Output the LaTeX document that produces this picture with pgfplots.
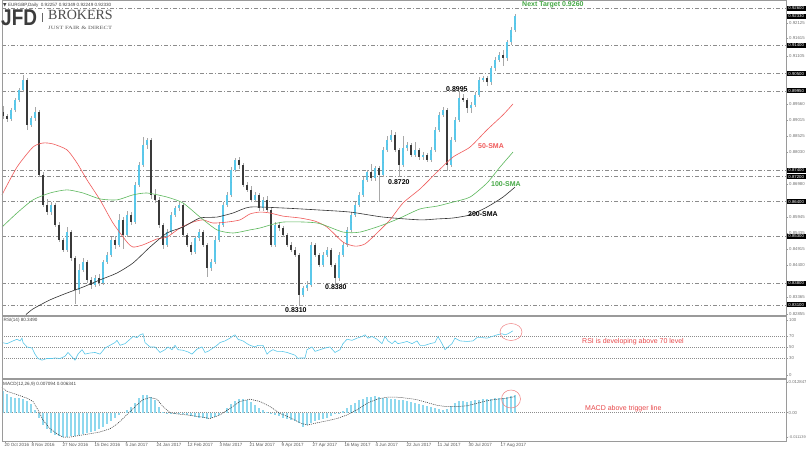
\documentclass[border=0pt]{standalone}
\usepackage{pgfplots}
\pgfplotsset{compat=1.18}
\usepackage{pgfplotstable}
\usepackage{graphicx}
\usepackage{fontspec}
\setmainfont{Liberation Sans}
\newfontfamily\serif{Liberation Serif}
\newfontfamily\dejavu{DejaVu Sans}
\definecolor{bull}{HTML}{5BC8EA}
\definecolor{bear}{HTML}{3A3A3A}
\definecolor{wick}{HTML}{A8A8A8}
\definecolor{smared}{HTML}{F05A5A}
\definecolor{smagreen}{HTML}{5CB85C}
\definecolor{smablack}{HTML}{333333}
\definecolor{lvl}{HTML}{8C8C8C}
\definecolor{rsic}{HTML}{5BC8EA}
\definecolor{histc}{HTML}{8FD8EE}
\definecolor{annred}{HTML}{E8484A}
\definecolor{anngreen}{HTML}{45A845}
\definecolor{framec}{HTML}{9A9A9A}
\definecolor{logoc}{HTML}{3C3C3C}
\newcommand{\lblfont}{\fontsize{4.3}{5}\selectfont}
\newcommand{\datefont}{\fontsize{4.5}{5}\selectfont}
\newcommand{\annfont}{\fontsize{7}{8}\selectfont\bfseries}
\tikzset{pbox/.style={fill=black, text=white, font=\lblfont, inner sep=0.6pt, minimum width=19pt, minimum height=5pt, anchor=west}}
\pgfplotsset{candle/.style={only marks, mark size=0pt, mark options={draw=none, fill=none}}}

\pgfplotstableread{
x o h l c
3 0.8927 0.8945 0.8905 0.8914
7 0.8914 0.8920 0.8895 0.8905
11 0.8905 0.8940 0.8899 0.8934
15 0.8934 0.8972 0.8928 0.8966
19 0.8966 0.9004 0.8960 0.8998
23 0.8998 0.9046 0.8992 0.9030
27 0.9030 0.9036 0.8870 0.8886
31 0.8886 0.8914 0.8878 0.8908
35 0.8908 0.8943 0.8900 0.8927
39 0.8927 0.8933 0.8718 0.8726
43 0.8726 0.8734 0.8622 0.8630
47 0.8630 0.8650 0.8598 0.8607
51 0.8607 0.8640 0.8598 0.8630
55 0.8630 0.8636 0.8558 0.8566
59 0.8566 0.8575 0.8510 0.8518
63 0.8518 0.8525 0.8478 0.8486
67 0.8486 0.8560 0.8480 0.8543
71 0.8543 0.8550 0.8452 0.8460
75 0.8460 0.8466 0.8312 0.8358
79 0.8358 0.8440 0.8345 0.8422
83 0.8422 0.8460 0.8415 0.8447
87 0.8447 0.8453 0.8380 0.8390
91 0.8390 0.8398 0.8362 0.8374
95 0.8374 0.8405 0.8366 0.8396
99 0.8396 0.8410 0.8370 0.8380
103 0.8380 0.8455 0.8374 0.8447
107 0.8447 0.8480 0.8440 0.8470
111 0.8470 0.8526 0.8462 0.8518
115 0.8518 0.8530 0.8490 0.8502
119 0.8502 0.8600 0.8495 0.8582
123 0.8582 0.8590 0.8490 0.8534
127 0.8534 0.8610 0.8526 0.8598
131 0.8598 0.8606 0.8566 0.8575
135 0.8575 0.8702 0.8568 0.8694
139 0.8694 0.8766 0.8686 0.8758
143 0.8758 0.8847 0.8750 0.8822
147 0.8822 0.8845 0.8810 0.8838
151 0.8838 0.8845 0.8650 0.8662
155 0.8662 0.8680 0.8636 0.8646
159 0.8646 0.8655 0.8556 0.8566
163 0.8566 0.8572 0.8490 0.8502
167 0.8502 0.8552 0.8494 0.8543
171 0.8543 0.8606 0.8536 0.8598
175 0.8598 0.8628 0.8590 0.8620
179 0.8620 0.8640 0.8612 0.8630
183 0.8630 0.8636 0.8526 0.8534
187 0.8534 0.8540 0.8494 0.8502
191 0.8502 0.8510 0.8470 0.8479
195 0.8479 0.8532 0.8472 0.8524
199 0.8524 0.8552 0.8516 0.8543
203 0.8543 0.8550 0.8494 0.8502
207 0.8502 0.8508 0.8400 0.8428
211 0.8428 0.8456 0.8418 0.8447
215 0.8447 0.8526 0.8440 0.8518
219 0.8518 0.8574 0.8510 0.8566
223 0.8566 0.8638 0.8558 0.8630
227 0.8630 0.8670 0.8622 0.8662
231 0.8662 0.8750 0.8655 0.8742
235 0.8742 0.8780 0.8735 0.8774
239 0.8774 0.8782 0.8745 0.8758
243 0.8758 0.8765 0.8686 0.8694
247 0.8694 0.8702 0.8670 0.8678
251 0.8678 0.8690 0.8638 0.8646
255 0.8646 0.8670 0.8638 0.8662
259 0.8662 0.8668 0.8612 0.8620
263 0.8620 0.8654 0.8612 0.8646
267 0.8646 0.8660 0.8606 0.8614
271 0.8614 0.8620 0.8494 0.8502
275 0.8502 0.8574 0.8494 0.8566
279 0.8566 0.8575 0.8548 0.8556
283 0.8556 0.8562 0.8526 0.8534
287 0.8534 0.8540 0.8494 0.8502
291 0.8502 0.8510 0.8478 0.8486
295 0.8486 0.8494 0.8462 0.8470
299 0.8470 0.8476 0.8310 0.8342
303 0.8342 0.8372 0.8334 0.8364
307 0.8364 0.8385 0.8356 0.8374
311 0.8374 0.8510 0.8366 0.8502
315 0.8502 0.8508 0.8462 0.8470
319 0.8470 0.8476 0.8430 0.8438
323 0.8438 0.8478 0.8430 0.8470
327 0.8470 0.8494 0.8462 0.8486
331 0.8486 0.8492 0.8430 0.8438
335 0.8438 0.8444 0.8380 0.8396
339 0.8396 0.8478 0.8388 0.8470
343 0.8470 0.8510 0.8462 0.8502
347 0.8502 0.8558 0.8494 0.8550
351 0.8550 0.8606 0.8542 0.8598
355 0.8598 0.8638 0.8590 0.8630
359 0.8630 0.8670 0.8622 0.8662
363 0.8662 0.8718 0.8654 0.8710
367 0.8710 0.8743 0.8702 0.8735
371 0.8735 0.8760 0.8708 0.8716
375 0.8716 0.8756 0.8708 0.8748
379 0.8748 0.8756 0.8640 0.8726
383 0.8726 0.8814 0.8718 0.8806
387 0.8806 0.8850 0.8798 0.8838
391 0.8838 0.8870 0.8830 0.8854
395 0.8854 0.8862 0.8798 0.8806
399 0.8806 0.8812 0.8720 0.8758
403 0.8758 0.8850 0.8750 0.8812
407 0.8812 0.8830 0.8804 0.8822
411 0.8822 0.8828 0.8782 0.8790
415 0.8790 0.8830 0.8782 0.8806
419 0.8806 0.8812 0.8775 0.8783
423 0.8783 0.8798 0.8775 0.8790
427 0.8790 0.8796 0.8766 0.8774
431 0.8774 0.8814 0.8766 0.8806
435 0.8806 0.8878 0.8798 0.8870
439 0.8870 0.8926 0.8862 0.8918
443 0.8918 0.8943 0.8910 0.8934
447 0.8934 0.8940 0.8740 0.8758
451 0.8758 0.8846 0.8750 0.8838
455 0.8838 0.8910 0.8830 0.8902
459 0.8902 0.8995 0.8894 0.8972
463 0.8972 0.8985 0.8958 0.8966
467 0.8966 0.8972 0.8925 0.8940
471 0.8940 0.8958 0.8925 0.8950
475 0.8950 0.8990 0.8942 0.8982
479 0.8982 0.9038 0.8974 0.9030
483 0.9030 0.9044 0.9022 0.9036
487 0.9036 0.9042 0.9010 0.9023
491 0.9023 0.9076 0.9015 0.9068
495 0.9068 0.9102 0.9060 0.9094
499 0.9094 0.9118 0.9086 0.9110
503 0.9110 0.9125 0.9075 0.9100
507 0.9100 0.9159 0.9092 0.9151
511 0.9151 0.9198 0.9143 0.9190
515 0.9190 0.9240 0.9182 0.9233
}\candles

\pgfplotstableread{
x v
2 59
7 57
13 62
17 65
20 62
22 67
23 59
27 51
32 49
35 38
38 30
42 27
47 30
52 30
55 31
60 30
65 34
68 41
72 33
75 27
78 38
82 46
85 38
90 40
95 41
100 38
105 49
110 54
115 59
117 63
120 54
125 57
130 65
133 70
137 68
140 73
143 75
145 59
150 51
155 51
160 41
165 46
168 51
172 46
175 54
178 46
183 45
188 42
192 38
197 47
202 51
205 41
208 43
213 49
217 54
220 59
225 62
230 67
233 71
235 73
238 65
243 62
247 57
250 54
255 51
258 54
263 54
267 38
270 43
273 46
277 43
282 43
287 41
292 38
295 36
298 30
300 31
305 31
307 46
312 51
315 43
320 46
325 49
330 51
335 41
340 46
343 57
347 65
352 63
357 67
362 70
365 73
368 67
372 70
377 65
382 57
385 70
388 62
392 57
395 62
398 57
403 59
407 61
412 57
417 62
420 54
425 54
430 57
435 59
438 70
442 57
445 46
448 51
452 57
455 67
460 62
467 61
473 62
477 68
482 68
487 67
492 70
497 73
502 75
505 73
508 75
513 80.35
}\rsi

\pgfplotstableread{
x v
3 0.0085
7 0.0072
11 0.0063
15 0.0059
19 0.0056
23 0.0053
27 0.0045
31 0.0033
35 0.0010
39 -0.0020
43 -0.0049
47 -0.0065
51 -0.0078
55 -0.0086
59 -0.0091
63 -0.0096
67 -0.0095
71 -0.0093
75 -0.0090
79 -0.0088
83 -0.0083
87 -0.0079
91 -0.0075
95 -0.0071
99 -0.0066
103 -0.0056
107 -0.0046
111 -0.0033
115 -0.0021
119 -0.0010
123 0.0000
127 0.0011
131 0.0021
135 0.0040
139 0.0057
143 0.0068
147 0.0070
151 0.0063
155 0.0051
159 0.0024
163 0.0002
167 -0.0005
171 -0.0007
175 -0.0007
179 -0.0006
183 -0.0007
187 -0.0009
191 -0.0014
195 -0.0017
199 -0.0019
203 -0.0021
207 -0.0023
211 -0.0020
215 -0.0016
219 -0.0010
223 0.0000
227 0.0017
231 0.0033
235 0.0047
239 0.0053
243 0.0053
247 0.0051
251 0.0042
255 0.0031
259 0.0019
263 0.0010
267 0.0004
271 -0.0004
275 -0.0010
279 -0.0015
283 -0.0019
287 -0.0024
291 -0.0028
295 -0.0034
299 -0.0042
303 -0.0056
307 -0.0049
311 -0.0040
315 -0.0034
319 -0.0028
323 -0.0023
327 -0.0019
331 -0.0012
335 -0.0006
339 -0.0001
343 0.0008
347 0.0017
351 0.0030
355 0.0040
359 0.0049
363 0.0055
367 0.0060
371 0.0063
375 0.0064
379 0.0062
383 0.0059
387 0.0057
391 0.0054
395 0.0052
399 0.0051
403 0.0049
407 0.0047
411 0.0042
415 0.0039
419 0.0036
423 0.0031
427 0.0027
431 0.0023
435 0.0019
439 0.0014
443 0.0011
447 0.0015
451 0.0028
455 0.0040
459 0.0044
463 0.0044
467 0.0043
471 0.0046
475 0.0048
479 0.0051
483 0.0052
487 0.0053
491 0.0055
495 0.0056
499 0.0057
503 0.0059
507 0.0061
511 0.0064
515 0.0071
}\macdh

\pgfplotstableread{
x v
2 0.0099
7 0.0084
17 0.0071
27 0.0057
33 0.0044
38 0.0011
43 -0.0029
50 -0.0063
57 -0.0083
63 -0.0096
70 -0.0096
80 -0.0089
90 -0.0083
100 -0.0076
110 -0.0063
117 -0.0045
123 -0.0023
130 0.0004
137 0.0031
143 0.0051
150 0.0060
157 0.0053
163 0.0024
170 0.0000
177 -0.0005
187 -0.0009
200 -0.0016
210 -0.0023
220 -0.0009
230 0.0017
240 0.0044
250 0.0053
260 0.0044
270 0.0024
280 -0.0003
290 -0.0019
300 -0.0040
307 -0.0049
317 -0.0040
327 -0.0032
337 -0.0023
347 -0.0009
357 0.0011
367 0.0037
377 0.0053
387 0.0061
397 0.0061
407 0.0057
417 0.0051
427 0.0040
437 0.0029
447 0.0024
457 0.0024
467 0.0027
477 0.0037
487 0.0047
497 0.0053
507 0.0057
515 0.0063
}\macds

\begin{document}
\begin{tikzpicture}
\useasboundingbox (0,0) rectangle (806pt,451pt);
\fill[white] (0,0) rectangle (806pt,451pt);

% ---------------- main price panel
\begin{axis}[
  at={(2pt,135pt)}, anchor=south west,
  scale only axis, width=784pt, height=314pt,
  xmin=2, xmax=786, ymin=0.82744, ymax=0.92792,
  clip=false,
  axis line style={draw=none},
  xtick=\empty,
  ytick pos=right, yticklabel pos=right,
  ytick={0.92120,0.91640,0.91064,0.89528,0.89016,0.88504,0.87992,0.86968,0.85912,0.85400,0.84888,0.84376,0.83352,0.82808},
  yticklabels={0.92125,0.91615,0.91105,0.89560,0.89015,0.88525,0.88030,0.86980,0.85945,0.85435,0.84915,0.84400,0.83365,0.82855},
  yticklabel style={font=\lblfont, text=black!55, inner sep=0pt, xshift=1pt},
  major tick length=2pt, tick style={black!40, line width=0.4pt}, tick align=outside,
]
\pgfplotsinvokeforeach{0.926,0.914,0.905,0.8995,0.874,0.872,0.864,0.853,0.838,0.831}{
  \addplot[lvl, line width=0.6pt, dash pattern=on 4pt off 2pt on 1pt off 2pt] coordinates {(2,#1) (786,#1)};
}
% wicks
\addplot[candle, error bars/.cd, y dir=both, y explicit, error mark=none,
  error bar style={wick, line width=0.6pt}]
  table[x=x, y expr={(\thisrow{h}+\thisrow{l})/2}, y error expr={(\thisrow{h}-\thisrow{l})/2}] {\candles};
% bull bodies
\addplot[candle, restrict expr to domain={\thisrow{c}-\thisrow{o}}{0:1},
  error bars/.cd, y dir=both, y explicit, error mark=none,
  error bar style={bull, line width=2.3pt}]
  table[x=x, y expr={(\thisrow{o}+\thisrow{c})/2}, y error expr={abs(\thisrow{c}-\thisrow{o})/2}] {\candles};
% bear bodies
\addplot[candle, restrict expr to domain={\thisrow{c}-\thisrow{o}}{-1:0},
  error bars/.cd, y dir=both, y explicit, error mark=none,
  error bar style={bear, line width=2.3pt}]
  table[x=x, y expr={(\thisrow{o}+\thisrow{c})/2}, y error expr={abs(\thisrow{c}-\thisrow{o})/2}] {\candles};
% 50 SMA
\addplot[smared, line width=0.6pt, smooth, tension=0.4] coordinates {
(2,0.8662) (17,0.8751) (33,0.8815) (43,0.8828) (53,0.8825) (67,0.8806) (77,0.8764) (87,0.8710)
(100,0.8646) (113,0.8572) (127,0.8511) (133,0.8495) (143,0.8502) (157,0.8521) (167,0.8527)
(180,0.8556) (193,0.8575) (203,0.8582) (213,0.8572) (227,0.8575) (240,0.8582) (250,0.8601)
(260,0.8607) (270,0.8604) (283,0.8594) (300,0.8588) (315,0.8578) (327,0.8559) (343,0.8511)
(355,0.8498) (365,0.8505) (377,0.8540) (390,0.8582) (403,0.8636) (420,0.8681) (437,0.8735)
(453,0.8783) (470,0.8815) (487,0.8870) (503,0.8918) (513,0.8953)};
% 100 SMA
\addplot[smagreen, line width=0.6pt, smooth, tension=0.4] coordinates {
(2,0.8559) (17,0.8604) (33,0.8646) (50,0.8668) (67,0.8678) (83,0.8668) (100,0.8649) (117,0.8646)
(133,0.8662) (147,0.8668) (167,0.8655) (183,0.8636) (200,0.8591) (217,0.8550) (233,0.8540)
(250,0.8550) (260,0.8556) (283,0.8575) (317,0.8572) (343,0.8543) (360,0.8543) (383,0.8566)
(400,0.8588) (420,0.8617) (437,0.8626) (453,0.8639) (470,0.8655) (487,0.8700) (500,0.8751) (513,0.8799)};
% 200 SMA
\addplot[smablack, line width=0.6pt, smooth, tension=0.4] coordinates {
(26,0.8279) (33,0.8297) (50,0.8326) (67,0.8348) (83,0.8367) (100,0.8390) (117,0.8412) (133,0.8444)
(150,0.8495) (167,0.8540) (183,0.8559) (200,0.8588) (217,0.8591) (233,0.8604) (250,0.8623)
(283,0.8620) (317,0.8614) (350,0.8607) (383,0.8591) (420,0.8582) (437,0.8585) (453,0.8588)
(470,0.8598) (487,0.8623) (503,0.8655) (515,0.8687)};
% boxed price labels
\node[pbox] at (axis cs:786.5,0.926) {0.92600};
\node[pbox] at (axis cs:786.5,0.9233) {0.92330};
\node[pbox] at (axis cs:786.5,0.914) {0.91400};
\node[pbox] at (axis cs:786.5,0.905) {0.90500};
\node[pbox] at (axis cs:786.5,0.8995) {0.89950};
\node[pbox] at (axis cs:786.5,0.874) {0.87400};
\node[pbox] at (axis cs:786.5,0.872) {0.87200};
\node[pbox] at (axis cs:786.5,0.864) {0.86400};
\node[pbox] at (axis cs:786.5,0.853) {0.85300};
\node[pbox] at (axis cs:786.5,0.838) {0.83800};
\node[pbox] at (axis cs:786.5,0.831) {0.83100};
\end{axis}

% ---------------- RSI panel
\begin{axis}[
  at={(2pt,72pt)}, anchor=south west,
  scale only axis, width=784pt, height=63pt,
  xmin=2, xmax=786, ymin=-7.27, ymax=107.27,
  clip=false,
  axis line style={draw=none},
  xtick=\empty,
  ytick pos=right, yticklabel pos=right,
  ytick={0,30,50,70,100}, yticklabels={0,30,50,70,100},
  yticklabel style={font=\lblfont, text=black!55, inner sep=0pt, xshift=1pt},
  major tick length=2pt, tick style={black!40, line width=0.4pt}, tick align=outside,
]
\pgfplotsinvokeforeach{30,50,70}{
  \addplot[black!45, line width=0.5pt, dash pattern=on 1pt off 1pt] coordinates {(2,#1) (786,#1)};
}
\addplot[rsic, line width=0.6pt] table[x=x,y=v] {\rsi};
\end{axis}

% ---------------- MACD panel
\begin{axis}[
  at={(2pt,10pt)}, anchor=south west,
  scale only axis, width=784pt, height=61pt,
  xmin=2, xmax=786, ymin=-0.011139, ymax=0.012847,
  clip=false,
  axis line style={draw=none},
  scaled y ticks=false,
  xtick={5,32,63,95,126,157,188,220,250,282,313,345,376,407,438,469,501},
  xticklabels={20 Oct 2016,8 Nov 2016,27 Nov 2016,15 Dec 2016,5 Jan 2017,24 Jan 2017,12 Feb 2017,3 Mar 2017,21 Mar 2017,9 Apr 2017,27 Apr 2017,16 May 2017,4 Jun 2017,22 Jun 2017,11 Jul 2017,30 Jul 2017,17 Aug 2017},
  xtick pos=bottom,
  xticklabel style={font=\datefont, text=black!65, anchor=north west, inner sep=0pt, yshift=-0.5pt, xshift=-0.5pt},
  ytick pos=right, yticklabel pos=right,
  ytick={-0.00954,0,0.01206}, yticklabels={\fontsize{3.9}{4}\selectfont -0.011139,0.00,0.012847},
  yticklabel style={font=\lblfont, text=black!55, inner sep=0pt, xshift=0.5pt},
  major tick length=2pt, tick style={black!40, line width=0.4pt}, tick align=outside,
]
\addplot[black!45, line width=0.5pt, dash pattern=on 1pt off 1pt] coordinates {(2,0) (786,0)};
\addplot[ycomb, histc, line width=2pt] table[x=x,y=v] {\macdh};
\addplot[black!85, line width=0.5pt, dash pattern=on 1pt off 1pt] table[x=x,y=v] {\macds};
\end{axis}

% ---------------- frame
\draw[framec, line width=0.8pt] (2pt,450.5pt) -- (786pt,450.5pt) -- (786pt,10pt) -- (2pt,10pt) -- cycle;
\draw[framec, line width=2pt] (2pt,135pt) -- (786pt,135pt);
\draw[framec, line width=2pt] (2pt,72pt) -- (786pt,72pt);

% ---------------- headers and logo
\node[anchor=west, inner sep=0, font=\fontsize{4.6}{5}\selectfont, text=black!75] at (3pt,446pt) {{\dejavu ▼} EURGBP,Daily\ \ 0.92257 0.92349 0.92249 0.92330};
\node[anchor=north west, inner sep=0, font=\fontsize{19}{19}\selectfont\bfseries, text=logoc, yscale=1.2] at (1pt,441pt) {JFD};
\draw[black!60, line width=0.6pt] (42pt,438pt) -- (42pt,429pt);
\node[anchor=north west, inner sep=0, font=\fontsize{14}{14}\selectfont\serif, text=black!70] at (48pt,441pt) {BROKERS};
\node[anchor=west, inner sep=0, text=black!65] at (48pt,423.5pt) {\resizebox{64pt}{3.2pt}{\serif JUST FAIR \& DIRECT}};
\node[anchor=west, inner sep=0, font=\fontsize{4.6}{5}\selectfont, text=black!75] at (3.5pt,130.5pt) {RSI(14) 80.3490};
\node[anchor=west, inner sep=0, font=\fontsize{4.6}{5}\selectfont, text=black!75] at (3pt,67pt) {MACD(12,26,9) 0.007094 0.006341};

% ---------------- annotations
\node[anchor=west, inner sep=0, font=\annfont, text=anngreen] at (522pt,446pt) {Next Target 0.9260};
\node[anchor=west, inner sep=0, font=\annfont, text=black] at (446pt,362pt) {0.8995};
\node[anchor=west, inner sep=0, font=\annfont, text=smared] at (478pt,305pt) {50-SMA};
\node[anchor=west, inner sep=0, font=\annfont, text=anngreen] at (491pt,267pt) {100-SMA};
\node[anchor=west, inner sep=0, font=\annfont, text=black] at (468pt,237pt) {200-SMA};
\node[anchor=west, inner sep=0, font=\annfont, text=black] at (388pt,269pt) {0.8720};
\node[anchor=west, inner sep=0, font=\annfont, text=black] at (325pt,164pt) {0.8380};
\node[anchor=west, inner sep=0, font=\annfont, text=black] at (285pt,141pt) {0.8310};
\node[anchor=west, inner sep=0, font=\fontsize{7}{8}\selectfont, text=annred] at (582pt,109pt) {RSI is developing above 70 level};
\node[anchor=west, inner sep=0, font=\fontsize{7}{8}\selectfont, text=annred] at (585pt,42pt) {MACD above trigger line};
\draw[annred!70, line width=0.5pt] (511pt,119pt) ellipse [x radius=11pt, y radius=8.5pt];
\draw[annred!70, line width=0.5pt] (511pt,52pt) ellipse [x radius=9.5pt, y radius=9pt];
\end{tikzpicture}
\end{document}
